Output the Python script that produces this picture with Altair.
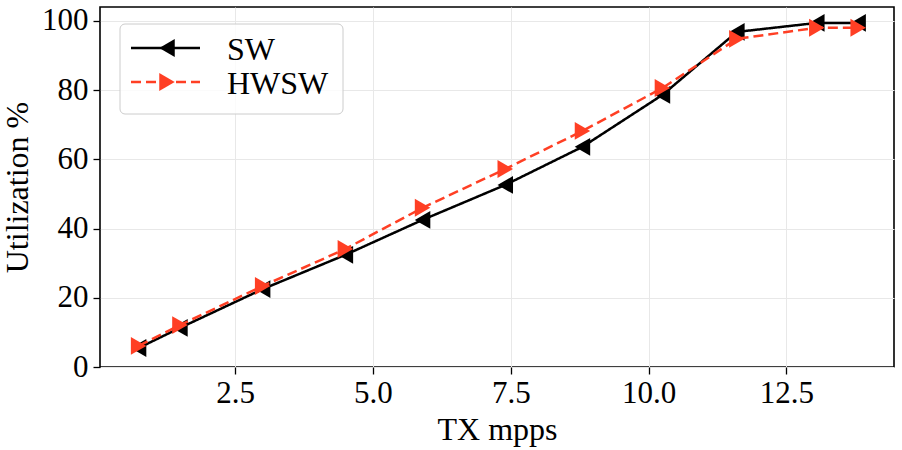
import altair as alt
import pandas as pd

# Measured throughput / utilization for the two processing paths
tx_mpps = [0.75, 1.5, 3.0, 4.5, 5.9, 7.4, 8.8, 10.25, 11.6, 13.05, 13.8]
sw_util = [5.5, 11.3, 22.5, 32.4, 42.5, 52.6, 63.6, 78.6, 96.8, 99.4, 99.4]
hwsw_util = [6.1, 12.1, 23.4, 34.1, 46.0, 57.2, 68.2, 80.6, 94.8, 98.0, 98.0]

series_names = ["SW", "HWSW"]
series_colors = ["#000000", "#ff3f24"]
series_dashes = [[1, 0], [10, 5]]
series_shapes = ["triangle-left", "triangle-right"]

x_ticks = [2.5, 5.0, 7.5, 10.0, 12.5]
y_ticks = [0, 20, 40, 60, 80, 100]

FONT = "Liberation Serif"
W, H = 794, 360

df = pd.DataFrame({
    "tx": tx_mpps * 2,
    "util": sw_util + hwsw_util,
    "series": ["SW"] * len(tx_mpps) + ["HWSW"] * len(tx_mpps),
})

x_enc = alt.X("tx:Q", title="TX mpps",
              scale=alt.Scale(domain=[0.05, 14.45], nice=False, zero=False),
              axis=alt.Axis(values=x_ticks, format=".1f"))
y_enc = alt.Y("util:Q", title="Utilization %",
              scale=alt.Scale(domain=[0, 104], nice=False),
              axis=alt.Axis(values=y_ticks))

layers = []
for name, color, dash, shape in zip(series_names, series_colors, series_dashes, series_shapes):
    base = alt.Chart(df).transform_filter(alt.datum.series == name)
    layers.append(base.mark_line(color=color, strokeWidth=2.5, strokeDash=dash)
                  .encode(x=x_enc, y=y_enc))
    layers.append(base.mark_point(shape=shape, filled=True, color=color, size=320, opacity=1)
                  .encode(x=x_enc, y=y_enc))

# Legend drawn in the upper-left corner of the plot
legend_data = pd.DataFrame({"series": series_names})
box = alt.Chart(legend_data).transform_filter(alt.datum.series == "SW").mark_rect(
    fill="white", fillOpacity=0.8, stroke="#cccccc", strokeWidth=1, cornerRadius=5
).encode(x=alt.value(20), x2=alt.value(243), y=alt.value(17), y2=alt.value(107))
layers.append(box)

row_y = [41, 75]
for i, (name, color, dash, shape) in enumerate(zip(series_names, series_colors, series_dashes, series_shapes)):
    entry = alt.Chart(legend_data).transform_filter(alt.datum.series == name)
    layers.append(entry.mark_rule(color=color, strokeWidth=2.5, strokeDash=dash).encode(
        x=alt.value(31), x2=alt.value(100), y=alt.value(row_y[i])))
    layers.append(entry.mark_point(shape=shape, filled=True, color=color, size=320, opacity=1).encode(
        x=alt.value(67), y=alt.value(row_y[i])))
    layers.append(entry.mark_text(align="left", baseline="middle", font=FONT, fontSize=32,
                                  color="black").encode(
        x=alt.value(127), y=alt.value(row_y[i] + 2), text="series:N"))

chart = alt.layer(*layers).properties(
    width=W, height=H,
    autosize=alt.AutoSizeParams(type="none"),
    padding={"left": 100, "top": 7, "right": 8, "bottom": 83},
    background="white",
).configure_view(
    stroke="black", strokeWidth=1.6
).configure_axis(
    labelFont=FONT, titleFont=FONT, labelFontSize=31, titleFontSize=32,
    labelColor="black", titleColor="black", titleFontWeight="normal",
    tickColor="black", tickSize=7, tickWidth=1.3, domain=False,
    grid=True, gridColor="#e8e8e8", gridWidth=1,
).configure_axisX(
    labelPadding=4, titlePadding=6,
).configure_axisY(
    labelPadding=5, titlePadding=7,
)

chart.save("out.html", embed_options={"renderer": "svg", "actions": False})
